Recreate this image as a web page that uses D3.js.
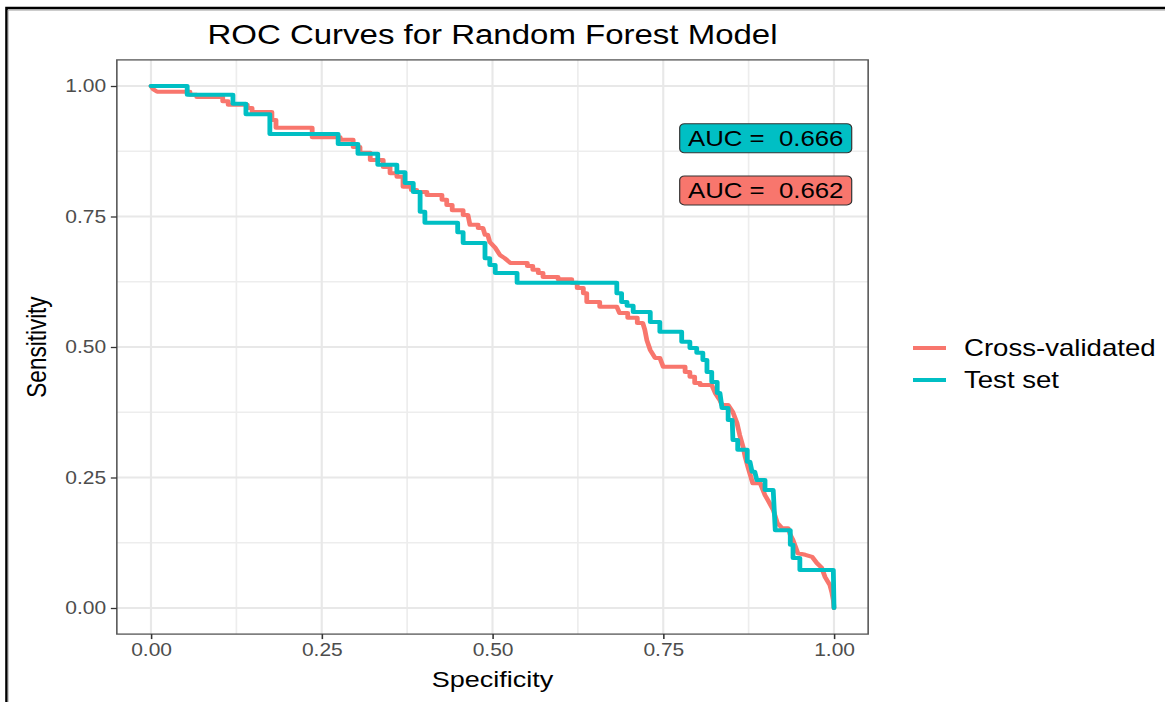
<!DOCTYPE html>
<html>
<head>
<meta charset="utf-8">
<script src="https://cdn.jsdelivr.net/npm/d3@7"></script>
<style>
  body { margin: 0; background: #fff; }
  svg { display: block; }
  text { font-family: "Liberation Sans", Arial, Helvetica, sans-serif; }
</style>
</head>
<body>
<svg id="chart" width="1165" height="702"></svg>
<script>
// ROC curve vertices (specificity, sensitivity)
const cvSpecificity = [0,0.003,0.009,0.057,0.057,0.067,0.067,0.105,0.105,0.113,0.113,0.141,0.141,0.148,0.148,0.177,0.177,0.183,0.183,0.236,0.236,0.277,0.277,0.296,0.296,0.306,0.306,0.321,0.321,0.340,0.340,0.350,0.350,0.360,0.360,0.369,0.369,0.381,0.381,0.389,0.389,0.404,0.404,0.426,0.426,0.433,0.433,0.441,0.441,0.457,0.457,0.464,0.467,0.479,0.479,0.486,0.489,0.493,0.496,0.504,0.511,0.518,0.526,0.551,0.551,0.559,0.559,0.567,0.567,0.574,0.574,0.596,0.596,0.616,0.616,0.624,0.624,0.633,0.633,0.638,0.638,0.657,0.657,0.682,0.686,0.698,0.698,0.712,0.712,0.720,0.723,0.726,0.731,0.738,0.745,0.750,0.782,0.782,0.789,0.789,0.796,0.796,0.804,0.804,0.821,0.826,0.833,0.836,0.845,0.852,0.858,0.862,0.867,0.870,0.874,0.881,0.892,0.896,0.899,0.903,0.911,0.917,0.924,0.933,0.936,0.940,0.947,0.958,0.968,0.975,0.982,0.987,0.994,0.997,0.999,1];
const cvSensitivity = [1,0.994,0.989,0.989,0.983,0.983,0.979,0.979,0.971,0.971,0.964,0.964,0.958,0.958,0.950,0.950,0.935,0.935,0.920,0.920,0.902,0.902,0.897,0.897,0.883,0.883,0.872,0.872,0.858,0.858,0.845,0.845,0.833,0.833,0.826,0.826,0.807,0.807,0.801,0.801,0.797,0.797,0.791,0.791,0.782,0.782,0.772,0.772,0.762,0.762,0.753,0.753,0.734,0.734,0.728,0.728,0.715,0.715,0.701,0.690,0.676,0.670,0.661,0.661,0.655,0.655,0.648,0.648,0.642,0.642,0.634,0.634,0.630,0.630,0.623,0.623,0.613,0.613,0.603,0.603,0.586,0.586,0.577,0.577,0.565,0.565,0.556,0.556,0.546,0.546,0.533,0.513,0.494,0.479,0.479,0.462,0.462,0.452,0.452,0.443,0.443,0.431,0.431,0.427,0.427,0.412,0.398,0.389,0.389,0.375,0.354,0.331,0.308,0.289,0.270,0.239,0.239,0.226,0.216,0.207,0.188,0.163,0.153,0.153,0.140,0.130,0.105,0.102,0.098,0.086,0.077,0.059,0.044,0.029,0.015,0];

const testSpecificity = [0,0.053,0.053,0.120,0.120,0.139,0.139,0.174,0.174,0.274,0.274,0.303,0.303,0.332,0.332,0.360,0.360,0.372,0.372,0.384,0.384,0.394,0.394,0.401,0.401,0.449,0.449,0.457,0.457,0.489,0.489,0.496,0.496,0.504,0.504,0.536,0.536,0.682,0.682,0.689,0.689,0.697,0.697,0.706,0.706,0.731,0.731,0.745,0.745,0.777,0.777,0.789,0.789,0.799,0.799,0.808,0.808,0.814,0.814,0.821,0.821,0.829,0.829,0.833,0.836,0.845,0.845,0.851,0.852,0.859,0.859,0.873,0.873,0.877,0.880,0.884,0.887,0.899,0.899,0.911,0.914,0.936,0.936,0.940,0.940,0.950,0.950,0.999,1];
const testSensitivity = [1,1,0.983,0.983,0.966,0.966,0.946,0.946,0.908,0.908,0.889,0.889,0.870,0.870,0.849,0.849,0.835,0.835,0.814,0.814,0.797,0.797,0.759,0.759,0.738,0.738,0.720,0.720,0.699,0.699,0.670,0.670,0.657,0.657,0.642,0.642,0.623,0.623,0.603,0.603,0.586,0.586,0.579,0.579,0.567,0.567,0.548,0.548,0.529,0.529,0.510,0.510,0.498,0.498,0.489,0.489,0.475,0.475,0.452,0.452,0.433,0.433,0.412,0.412,0.383,0.383,0.360,0.360,0.322,0.322,0.303,0.303,0.280,0.280,0.261,0.261,0.245,0.245,0.226,0.226,0.149,0.149,0.121,0.121,0.096,0.096,0.073,0.073,0];

const seriesNames = ["Cross-validated", "Test set"];
const seriesColors = ["#F8766D", "#00BFC4"];
const aucValues = [0.662, 0.666];
const aucLabelSpecificity = 0.9;
const aucLabelSensitivity = [0.8, 0.9];
const axisTicks = [0, 0.25, 0.5, 0.75, 1];
const minorTicks = [0.125, 0.375, 0.625, 0.875];

const svg = d3.select("#chart");

// the whole figure is rendered with a horizontal stretch
const stretch = 1.2;
const root = svg.append("g").attr("transform", `scale(${stretch},1)`);

const x = d3.scaleLinear().domain([0, 1]).range([151 / stretch, 834 / stretch]);
const y = d3.scaleLinear().domain([0, 1]).range([608, 86]);

const px0 = x(-0.05), px1 = x(1.05), py0 = y(1.05), py1 = y(-0.05);

// panel grid
const grid = root.append("g");
grid.selectAll(".minx").data(minorTicks).join("line")
  .attr("x1", d => x(d)).attr("x2", d => x(d)).attr("y1", py0).attr("y2", py1)
  .attr("stroke", "#EDEDED").attr("stroke-width", 1.4);
grid.selectAll(".miny").data(minorTicks).join("line")
  .attr("x1", px0).attr("x2", px1).attr("y1", d => y(d)).attr("y2", d => y(d))
  .attr("stroke", "#EDEDED").attr("stroke-width", 1.6);
grid.selectAll(".majx").data(axisTicks).join("line")
  .attr("x1", d => x(d)).attr("x2", d => x(d)).attr("y1", py0).attr("y2", py1)
  .attr("stroke", "#E8E8E8").attr("stroke-width", 1.8);
grid.selectAll(".majy").data(axisTicks).join("line")
  .attr("x1", px0).attr("x2", px1).attr("y1", d => y(d)).attr("y2", d => y(d))
  .attr("stroke", "#E8E8E8").attr("stroke-width", 2);

// ROC curves
const curves = [
  cvSpecificity.map((s, i) => [s, cvSensitivity[i]]),
  testSpecificity.map((s, i) => [s, testSensitivity[i]])
];
const line = d3.line().x(d => x(d[0])).y(d => y(d[1]));
root.selectAll(".roc").data(curves).join("path")
  .attr("d", line)
  .attr("fill", "none")
  .attr("stroke", (d, i) => seriesColors[i])
  .attr("stroke-width", 4)
  .attr("stroke-linejoin", "round")
  .attr("stroke-linecap", "round");

// AUC labels
const labelW = 172 / stretch, labelH = 29;
const labels = root.selectAll(".auc").data([1, 0]).join("g")
  .attr("transform", i => `translate(${x(aucLabelSpecificity)},${y(aucLabelSensitivity[i])})`);
labels.append("rect")
  .attr("x", -labelW / 2).attr("y", -labelH / 2)
  .attr("width", labelW).attr("height", labelH)
  .attr("rx", 4).attr("ry", 4)
  .attr("fill", i => seriesColors[i])
  .attr("stroke", "#333").attr("stroke-width", 1);
labels.append("text")
  .attr("text-anchor", "middle").attr("dy", "0.36em")
  .style("white-space", "pre")
  .attr("font-size", 21.5).attr("fill", "#000")
  .text(i => "AUC =  " + aucValues[i].toFixed(3));

// panel border
root.append("rect")
  .attr("x", px0).attr("y", py0).attr("width", px1 - px0).attr("height", py1 - py0)
  .attr("fill", "none").attr("stroke", "#555").attr("stroke-width", 1.3);

// axes
const xAxis = root.append("g").attr("transform", `translate(0,${py1})`)
  .call(d3.axisBottom(x).tickValues(axisTicks).tickFormat(d3.format(".2f")).tickSize(5).tickPadding(4));
const yAxis = root.append("g").attr("transform", `translate(${px0},0)`)
  .call(d3.axisLeft(y).tickValues(axisTicks).tickFormat(d3.format(".2f")).tickSize(5).tickPadding(4));
[xAxis, yAxis].forEach(a => {
  a.select(".domain").remove();
  a.selectAll(".tick line").attr("stroke", "#333").attr("stroke-width", 1.3);
  a.selectAll(".tick text").attr("fill", "#4D4D4D").attr("font-size", 17.5)
    .attr("font-family", "Liberation Sans, Arial, sans-serif");
});

// titles
const cx = (px0 + px1) / 2;
root.append("text").attr("x", cx).attr("y", 44).attr("text-anchor", "middle")
  .attr("font-size", 27.5).attr("fill", "#000").text("ROC Curves for Random Forest Model");
root.append("text").attr("x", cx).attr("y", 687).attr("text-anchor", "middle")
  .attr("font-size", 22.5).attr("fill", "#000").text("Specificity");
root.append("text")
  .attr("transform", `translate(${46 / stretch},${(py0 + py1) / 2}) rotate(-90)`)
  .attr("text-anchor", "middle")
  .attr("font-size", 22.5).attr("fill", "#000").text("Sensitivity");

// legend
const legend = root.append("g");
const legendY = [348, 380];
seriesNames.forEach((name, i) => {
  legend.append("line")
    .attr("x1", 913 / stretch).attr("x2", 946 / stretch)
    .attr("y1", legendY[i]).attr("y2", legendY[i])
    .attr("stroke", seriesColors[i]).attr("stroke-width", 4);
  legend.append("text")
    .attr("x", 964 / stretch).attr("y", legendY[i]).attr("dy", "0.36em")
    .attr("font-size", 23).attr("fill", "#000").text(name);
});

// outer frame
svg.append("path").attr("d", "M6.5,702V8H1165")
  .attr("fill", "none").attr("stroke", "#000").attr("stroke-width", 2.6);
svg.append("path").attr("d", "M8,702V10H1165")
  .attr("fill", "none").attr("stroke", "#999").attr("stroke-width", 1);
</script>
</body>
</html>
